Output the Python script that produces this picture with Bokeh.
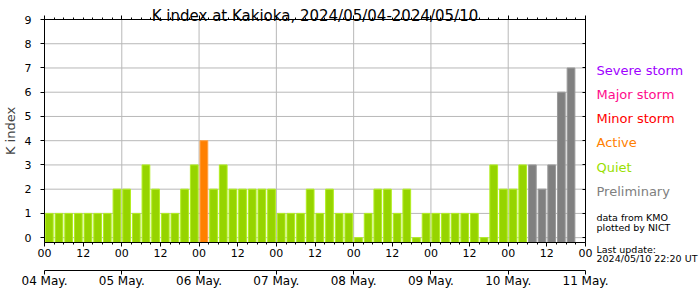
from bokeh.plotting import figure
from bokeh.models import Range1d, LinearAxis, FixedTicker, Label, ColumnDataSource
from bokeh.embed import file_html
from bokeh.resources import INLINE

# ---------------- data ----------------
title_text = "K index at Kakioka, 2024/05/04-2024/05/10"
day_labels = ["04 May.", "05 May.", "06 May.", "07 May.", "08 May.", "09 May.", "10 May.", "11 May."]
hour_labels = ["00", "12"]
k_index = [
    1, 1, 1, 1, 1, 1, 1, 2,   # 04 May
    2, 1, 3, 2, 1, 1, 2, 3,   # 05 May
    4, 2, 3, 2, 2, 2, 2, 2,   # 06 May
    1, 1, 1, 2, 1, 2, 1, 1,   # 07 May
    0, 1, 2, 2, 1, 2, 0, 1,   # 08 May
    1, 1, 1, 1, 1, 0, 3, 2,   # 09 May
    2, 3, 3, 2, 3, 6, 7,      # 10 May
]
n_preliminary = 5
legend_names = ["Severe storm", "Major storm", "Minor storm", "Active", "Quiet", "Preliminary"]
legend_colors = ["#a000ff", "#ff0a8c", "#ff0000", "#ff8000", "#99e000", "#808080"]
notes = ["data from KMO", "plotted by NICT"]
update_lines = ["Last update:", "2024/05/10 22:20 UT"]

FONT = "DejaVu Sans"
HOURS = 3
N_DAYS = 7
T_END = 24 * N_DAYS
K_MIN, K_MAX = -0.2, 9

# ---------------- layout geometry (pixels of the 700x290 canvas) ----------------
W, H = 700, 290
PX_L, PX_R, PX_T, PX_B = 44, 585, 19, 242
SX = (PX_R - PX_L) / T_END          # px per hour
SY = (PX_B - PX_T) / (K_MAX - K_MIN)  # px per K unit

def ydata(py):
    return K_MAX - (py - PX_T) / SY

def xdata(px):
    return (px - PX_L) / SX

# ---------------- colours per bar ----------------
fill_map = {"Quiet": "#96d400", "Active": "#ff8000", "Minor storm": "#ff0000",
            "Major storm": "#ff0a8c", "Severe storm": "#a000ff", "Preliminary": "#808080"}
edge_map = {"Quiet": "#b2ee20", "Active": "#ffa040", "Minor storm": "#ff4040",
            "Major storm": "#ff50b0", "Severe storm": "#c050ff", "Preliminary": "#9a9a9a"}

def status(i, k):
    if i >= len(k_index) - n_preliminary:
        return "Preliminary"
    if k <= 3:
        return "Quiet"
    if k == 4:
        return "Active"
    if k == 5:
        return "Minor storm"
    if k == 6:
        return "Major storm"
    return "Severe storm"

stat = [status(i, k) for i, k in enumerate(k_index)]
src = ColumnDataSource(dict(
    x=[HOURS * i + HOURS / 2 for i in range(len(k_index))],
    top=k_index,
    fill=[fill_map[s] for s in stat],
    edge=[edge_map[s] for s in stat],
))

# ---------------- figure ----------------
p = figure(width=W, height=H, output_backend="svg", toolbar_location=None,
           x_range=Range1d(xdata(0), xdata(W)), y_range=Range1d(ydata(H), ydata(0)),
           x_axis_type=None, y_axis_type=None, min_border=0)
p.outline_line_color = None
p.background_fill_color = "white"
p.border_fill_color = "white"

hour_ticks = list(range(0, T_END + 1, 12))
day_ticks = list(range(0, T_END + 1, 24))
minor = list(range(0, T_END + 1, HOURS))
k_ticks = list(range(0, 10))

# grid lines (inside the plotting box only)
GRID = "#b8b8b8"
inner_days = day_ticks[1:-1]
p.segment(x0=inner_days, x1=inner_days, y0=[K_MIN] * len(inner_days), y1=[K_MAX] * len(inner_days),
          line_color=GRID, line_width=1)
p.segment(x0=[0] * len(k_ticks), x1=[T_END] * len(k_ticks), y0=k_ticks, y1=k_ticks,
          line_color=GRID, line_width=1)

# bars
p.vbar(x="x", top="top", bottom=K_MIN, width=HOURS * 0.8, source=src,
       fill_color="fill", line_color="edge", line_width=1)

def style_axis(ax, size="11px"):
    ax.axis_line_color = "black"
    ax.axis_line_width = 1
    ax.major_tick_line_color = "black"
    ax.minor_tick_line_color = "black"
    ax.major_label_text_font = FONT
    ax.major_label_text_font_size = size
    ax.major_label_text_color = "black"

def hide_labels(ax):
    ax.major_label_text_color = None
    ax.major_label_text_alpha = 0
    ax.major_label_text_font_size = "1px"
    ax.major_label_standoff = 0

# left axis
yax = LinearAxis(ticker=FixedTicker(ticks=k_ticks), axis_label="K index",
                 fixed_location=0, bounds=(K_MIN, K_MAX))
style_axis(yax)
yax.major_tick_out = 4
yax.major_tick_in = 0
yax.minor_tick_out = 0
yax.major_label_standoff = 9
yax.axis_label_text_font = FONT
yax.axis_label_text_font_size = "13px"
yax.axis_label_text_font_style = "normal"
yax.axis_label_standoff = 4
p.add_layout(yax, "left")

# right axis (ticks only, inward)
rax = LinearAxis(ticker=FixedTicker(ticks=k_ticks), fixed_location=T_END, bounds=(K_MIN, K_MAX))
style_axis(rax)
hide_labels(rax)
rax.major_tick_out = 0
rax.major_tick_in = 3
rax.minor_tick_out = 0
p.add_layout(rax, "right")

# top axis (ticks only)
tax = LinearAxis(ticker=FixedTicker(ticks=day_ticks, minor_ticks=minor),
                 fixed_location=K_MAX, bounds=(0, T_END))
style_axis(tax)
hide_labels(tax)
tax.major_tick_out = 4
tax.major_tick_in = 0
tax.minor_tick_out = 2
tax.minor_tick_in = 0
p.add_layout(tax, "above")

# bottom hour axis
bax = LinearAxis(ticker=FixedTicker(ticks=hour_ticks, minor_ticks=minor),
                 fixed_location=K_MIN, bounds=(0, T_END))
style_axis(bax)
bax.major_label_overrides = {t: hour_labels[(t // 12) % 2] for t in hour_ticks}
bax.major_tick_out = 4
bax.major_tick_in = 0
bax.minor_tick_out = 2
bax.minor_tick_in = 0
bax.major_label_standoff = 2
p.add_layout(bax, "below")

# bottom date axis
dax = LinearAxis(ticker=FixedTicker(ticks=day_ticks, minor_ticks=[]),
                 fixed_location=ydata(269.5), bounds=(0, T_END))
style_axis(dax, "12px")
dax.major_label_overrides = {t: day_labels[i] for i, t in enumerate(day_ticks)}
dax.major_tick_out = 4
dax.major_tick_in = 0
dax.minor_tick_out = 0
dax.major_label_standoff = 0
p.add_layout(dax, "below")

# title
p.add_layout(Label(x=T_END / 2, y=ydata(15.7), text=title_text,
                   text_font=FONT, text_font_size="15px", text_align="center",
                   text_baseline="alphabetic", text_color="black"))

# legend on the right
lx = xdata(596)
legend_base = [70, 94.3, 118.3, 142.3, 166.7, 191]
for name, col, py in zip(legend_names, legend_colors, legend_base):
    p.add_layout(Label(x=lx, y=ydata(py), text=name, text_font=FONT, text_font_size="13px",
                       text_color=col, text_align="left", text_baseline="alphabetic"))
note_base = [217, 226.5, 249.3, 258.3]
for txt, py in zip(notes + update_lines, note_base):
    p.add_layout(Label(x=lx, y=ydata(py), text=txt, text_font=FONT, text_font_size="9.5px",
                       text_color="black", text_align="left", text_baseline="alphabetic"))

open("out.html", "w").write(file_html(p, INLINE))
